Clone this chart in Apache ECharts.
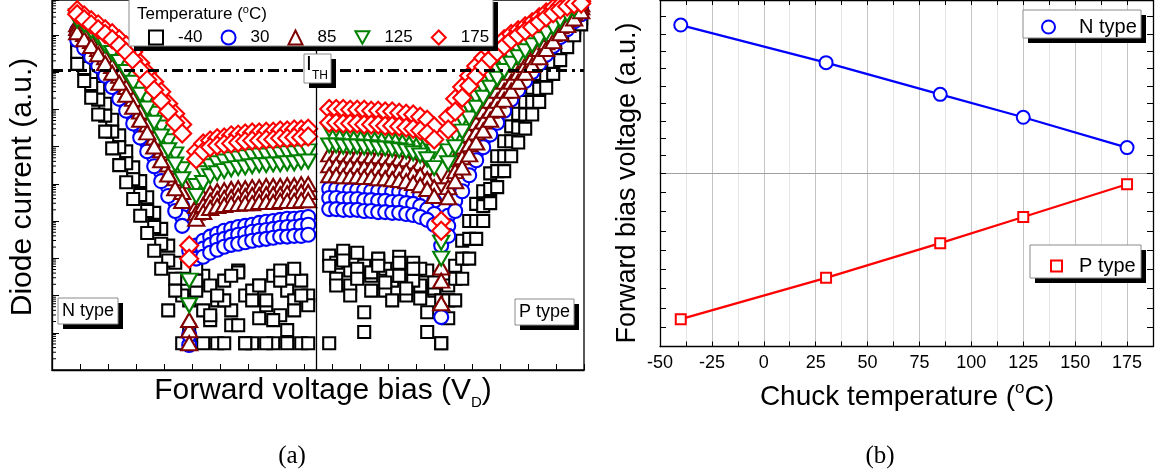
<!DOCTYPE html>
<html>
<head>
<meta charset="utf-8">
<script src="https://cdn.jsdelivr.net/npm/echarts@6/dist/echarts.min.js"></script>
<style>
  html, body { margin: 0; padding: 0; background: #ffffff; }
  #chart { width: 1166px; height: 475px; }
</style>
</head>
<body>
<div id="chart"></div>
<script>
// ---------- (a) diode I-V sweeps: forward bias sample points ----------
const biasN = [0.9, 1.15, 1.4, 1.65, 1.9, 2.15, 2.4, 2.65, 2.9, 3.15, 3.4, 3.65, 3.9, 4.15, 4.4, 4.65, 4.9,
  5.15, 5.4, 5.65, 5.9, 6.15, 6.4, 6.65, 6.9, 7.15, 7.4, 7.65, 7.9, 8.15, 8.4, 8.65, 8.9, 9.15];
const biasP = [9.9, 10.15, 10.4, 10.65, 10.9, 11.15, 11.4, 11.65, 11.9, 12.15, 12.4, 12.65, 12.9, 13.15, 13.4,
  13.65, 13.9, 14.15, 14.4, 14.65, 14.9, 15.15, 15.4, 15.65, 15.9, 16.15, 16.4, 16.65, 16.9, 17.15, 17.4,
  17.65, 17.9, 18.15, 18.4, 18.65, 18.9];

// log10 of diode current (a.u.), one row per measured device
const logIN_m40 = [
  [8.80, 8.40, 8.00, 7.57, 7.15, 6.72, 6.30, 5.87, 5.44, 5.07, 4.64, 4.22, 3.79, 3.34, 2.88, 2.45, 1.87, 2.13, 2.53, 1.34, 1.87, 2.40, 1.60, 2.67, 2.00, 0.72, 2.27, 1.74, 2.53, 1.47, 2.13, 1.87, 2.40, 2.00],
  [8.54, 8.11, 7.68, 7.26, 6.83, 6.40, 5.98, 5.55, 5.12, 4.70, 4.27, 3.84, 3.39, 2.94, 2.45, 2.00, 0.72, 2.72, 1.60, 2.27, 0.72, 1.87, 1.20, 2.62, 0.72, 2.13, 1.39, 1.87, 0.72, 2.40, 1.07, 2.72, 0.72, 1.74],
  [8.22, 7.76, 7.31, 6.86, 6.40, 5.95, 5.50, 5.04, 4.59, 4.14, 3.68, 3.20, 2.72, 1.60, 2.13, 0.72, 1.07, 2.40, 0.72, 1.47, 2.00, 0.72, 2.53, 1.20, 0.72, 1.87, 2.27, 0.72, 1.34, 2.67, 0.72, 1.60, 2.00, 0.72]
];
const logIN_30 = [
  [9.12, 8.94, 8.72, 8.51, 8.27, 8.00, 7.71, 7.39, 7.07, 6.72, 6.38, 6.00, 5.60, 5.20, 4.80, 4.40, 0.67, 3.34, 3.47, 3.58, 3.66, 3.74, 3.79, 3.84, 3.87, 3.90, 3.95, 3.98, 4.00, 4.03, 4.06, 4.06, 4.08, 4.11],
  [8.99, 8.78, 8.56, 8.32, 8.08, 7.79, 7.50, 7.18, 6.83, 6.48, 6.11, 5.71, 5.31, 4.91, 4.51, 4.11, 0.94, 3.15, 3.26, 3.36, 3.47, 3.52, 3.58, 3.63, 3.66, 3.71, 3.74, 3.76, 3.79, 3.82, 3.84, 3.84, 3.87, 3.90],
  [8.86, 8.64, 8.40, 8.16, 7.90, 7.60, 7.28, 6.96, 6.62, 6.24, 5.87, 5.47, 5.07, 4.67, 4.27, 3.87, 3.20, 2.99, 3.04, 3.15, 3.23, 3.31, 3.36, 3.39, 3.43, 3.47, 3.50, 3.52, 3.55, 3.58, 3.58, 3.60, 3.60, 3.63]
];
const logIN_85 = [
  [9.28, 9.12, 8.96, 8.78, 8.56, 8.32, 8.08, 7.79, 7.47, 7.15, 6.83, 6.48, 6.14, 5.79, 5.44, 5.07, 1.07, 4.40, 4.64, 4.75, 4.80, 4.83, 4.86, 4.88, 4.88, 4.91, 4.91, 4.94, 4.94, 4.94, 4.96, 4.96, 4.99, 4.99],
  [9.18, 9.02, 8.83, 8.62, 8.40, 8.16, 7.90, 7.60, 7.28, 6.94, 6.59, 6.24, 5.90, 5.52, 5.15, 4.78, 0.72, 4.22, 4.43, 4.54, 4.59, 4.62, 4.64, 4.67, 4.67, 4.70, 4.70, 4.72, 4.72, 4.72, 4.75, 4.75, 4.78, 4.78],
  [9.07, 8.88, 8.70, 8.48, 8.24, 7.98, 7.71, 7.39, 7.07, 6.72, 6.38, 6.00, 5.63, 5.25, 4.88, 4.54, 1.34, 4.06, 4.24, 4.35, 4.40, 4.43, 4.46, 4.46, 4.48, 4.48, 4.51, 4.51, 4.51, 4.54, 4.54, 4.54, 4.56, 4.56]
];
const logIN_125 = [
  [9.50, 9.36, 9.23, 9.07, 8.88, 8.67, 8.46, 8.19, 7.90, 7.60, 7.26, 6.88, 6.51, 6.14, 5.79, 5.39, 2.40, 4.94, 5.28, 5.47, 5.55, 5.60, 5.66, 5.68, 5.71, 5.74, 5.76, 5.76, 5.79, 5.79, 5.82, 5.82, 5.84, 5.87],
  [9.39, 9.26, 9.10, 8.94, 8.72, 8.51, 8.27, 8.00, 7.71, 7.39, 7.02, 6.64, 6.27, 5.90, 5.52, 5.12, 1.74, 4.67, 5.02, 5.20, 5.28, 5.34, 5.39, 5.42, 5.44, 5.47, 5.50, 5.50, 5.52, 5.52, 5.55, 5.55, 5.58, 5.60]
];
const logIN_175 = [
  [9.66, 9.52, 9.39, 9.28, 9.15, 9.04, 8.88, 8.72, 8.54, 8.24, 7.98, 7.74, 7.47, 7.15, 6.88, 6.59, 3.34, 5.87, 6.08, 6.16, 6.22, 6.24, 6.30, 6.32, 6.35, 6.38, 6.38, 6.40, 6.40, 6.43, 6.43, 6.46, 6.46, 6.48],
  [9.55, 9.42, 9.28, 9.15, 9.02, 8.88, 8.72, 8.54, 8.32, 8.06, 7.79, 7.52, 7.23, 6.94, 6.64, 6.35, 2.99, 5.66, 5.87, 5.98, 6.03, 6.06, 6.08, 6.11, 6.14, 6.16, 6.16, 6.19, 6.19, 6.22, 6.22, 6.24, 6.24, 6.27]
];

const logIP_m40 = [
  [3.07, 2.88, 2.99, 2.67, 3.15, 2.80, 2.53, 2.94, 2.72, 2.40, 3.04, 2.62, 2.88, 2.27, 2.67, 2.13, 0.72, 2.27, 2.80, 3.47, 4.00, 4.46, 4.80, 5.28, 5.74, 6.14, 6.54, 6.88, 7.20, 7.58, 7.95, 8.32, 8.67, 8.99, 9.26, 9.50, 9.68],
  [2.80, 2.45, 3.20, 2.27, 2.72, 1.55, 2.62, 2.99, 2.13, 2.53, 2.88, 2.00, 2.40, 2.72, 1.02, 2.19, 1.87, 1.87, 2.45, 2.99, 3.52, 4.00, 4.40, 4.86, 5.34, 5.74, 6.14, 6.51, 6.86, 7.20, 7.55, 7.92, 8.27, 8.62, 8.94, 9.20, 9.44],
  [0.72, 2.27, 2.94, 2.00, 2.45, 1.02, 2.13, 2.80, 2.35, 1.87, 2.53, 2.19, 2.72, 1.92, 1.55, 2.35, 0.72, 1.39, 1.87, 2.45, 2.99, 3.52, 4.00, 4.48, 4.91, 5.34, 5.74, 6.11, 6.48, 6.86, 7.20, 7.58, 7.95, 8.32, 8.67, 8.99, 9.28]
];
const logIP_30 = [
  [4.86, 4.86, 4.86, 4.83, 4.83, 4.83, 4.80, 4.80, 4.80, 4.78, 4.78, 4.75, 4.72, 4.70, 4.64, 4.54, 1.42, 4.14, 4.86, 5.34, 5.74, 6.14, 6.46, 6.80, 7.12, 7.42, 7.68, 7.95, 8.16, 8.38, 8.59, 8.80, 9.04, 9.26, 9.44, 9.60, 9.74],
  [4.62, 4.62, 4.59, 4.59, 4.59, 4.56, 4.56, 4.54, 4.54, 4.51, 4.51, 4.48, 4.46, 4.40, 4.32, 4.19, 3.34, 3.87, 4.54, 5.04, 5.47, 5.84, 6.19, 6.54, 6.86, 7.15, 7.44, 7.71, 7.95, 8.16, 8.38, 8.62, 8.83, 9.07, 9.28, 9.47, 9.63],
  [4.32, 4.32, 4.30, 4.30, 4.30, 4.27, 4.27, 4.24, 4.24, 4.22, 4.22, 4.19, 4.16, 4.11, 4.03, 3.90, 3.68, 3.60, 4.27, 4.80, 5.23, 5.63, 5.98, 6.32, 6.64, 6.96, 7.26, 7.52, 7.76, 8.00, 8.22, 8.46, 8.70, 8.94, 9.15, 9.36, 9.55]
];
const logIP_85 = [
  [5.79, 5.79, 5.79, 5.76, 5.76, 5.76, 5.74, 5.74, 5.71, 5.71, 5.68, 5.66, 5.60, 5.55, 5.44, 5.20, 2.75, 5.20, 5.66, 6.00, 6.32, 6.64, 6.94, 7.23, 7.50, 7.74, 7.98, 8.19, 8.40, 8.62, 8.80, 8.99, 9.20, 9.42, 9.58, 9.71, 9.82],
  [5.50, 5.50, 5.47, 5.47, 5.47, 5.44, 5.44, 5.42, 5.42, 5.39, 5.36, 5.34, 5.28, 5.23, 5.12, 4.91, 2.40, 4.91, 5.34, 5.71, 6.06, 6.38, 6.67, 6.96, 7.23, 7.50, 7.74, 7.98, 8.19, 8.40, 8.62, 8.80, 9.02, 9.23, 9.42, 9.58, 9.74],
  [5.23, 5.23, 5.20, 5.20, 5.20, 5.18, 5.18, 5.15, 5.15, 5.12, 5.10, 5.07, 5.02, 4.96, 4.86, 4.67, 1.79, 4.64, 5.07, 5.44, 5.79, 6.11, 6.43, 6.72, 6.99, 7.26, 7.50, 7.74, 7.98, 8.19, 8.40, 8.62, 8.83, 9.04, 9.26, 9.44, 9.63]
];
const logIP_125 = [
  [6.46, 6.46, 6.46, 6.43, 6.43, 6.43, 6.40, 6.40, 6.38, 6.38, 6.35, 6.32, 6.27, 6.22, 6.11, 5.87, 3.42, 5.87, 6.30, 6.72, 7.04, 7.31, 7.58, 7.84, 8.06, 8.24, 8.40, 8.59, 8.75, 8.88, 9.04, 9.18, 9.34, 9.52, 9.66, 9.76, 9.84],
  [6.03, 6.03, 6.00, 6.00, 6.00, 5.98, 5.98, 5.95, 5.95, 5.92, 5.90, 5.87, 5.82, 5.76, 5.66, 5.42, 2.99, 5.55, 5.98, 6.40, 6.75, 7.04, 7.31, 7.58, 7.82, 8.03, 8.22, 8.40, 8.56, 8.72, 8.88, 9.04, 9.20, 9.39, 9.55, 9.68, 9.79]
];
const logIP_175 = [
  [7.01, 7.01, 7.01, 6.99, 6.99, 6.99, 6.96, 6.96, 6.94, 6.94, 6.91, 6.88, 6.86, 6.80, 6.72, 6.54, 4.00, 6.80, 7.28, 7.60, 7.90, 8.16, 8.38, 8.56, 8.72, 8.88, 9.02, 9.12, 9.23, 9.34, 9.47, 9.60, 9.71, 9.79, 9.84, 9.87, 9.90],
  [6.64, 6.64, 6.62, 6.62, 6.62, 6.59, 6.59, 6.59, 6.56, 6.56, 6.54, 6.51, 6.48, 6.43, 6.35, 6.19, 3.74, 6.46, 6.94, 7.31, 7.63, 7.90, 8.14, 8.35, 8.54, 8.70, 8.86, 8.99, 9.10, 9.20, 9.34, 9.47, 9.58, 9.68, 9.76, 9.82, 9.84]
];

const temperatureLabels = ['-40', '30', '85', '125', '175'];
const currentAxisMax = 8.6e9;    // upper edge of the current axis (a.u.)
const thresholdLogI = 8.05;      // I_TH level, log10 (a.u.)
const typeBoundaryBias = 9.43;   // separates N type and P type sweeps

// ---------- (b) forward bias voltage at I_TH vs chuck temperature ----------
const chuckTemperature = [-40, 30, 85, 125, 175];
const forwardBiasN = [4.25, 3.17, 2.26, 1.60, 0.73];
const forwardBiasP = [0.71, 1.78, 2.68, 3.36, 4.21];

// ---------- styling ----------
const FONT = '"Liberation Sans", Arial, sans-serif';
const SERIF = '"Liberation Serif", "Times New Roman", serif';
const markerStyle = {
  '-40': { symbol: 'rect', size: 12, color: '#000000' },
  '30': { symbol: 'circle', size: 14, color: '#0000ff' },
  '85': { symbol: 'triangle', size: [16, 14], color: '#800000' },
  '125': { symbol: 'path://M0,0L10,0L5,9Z', size: [16, 14], color: '#008000' },
  '175': { symbol: 'diamond', size: 18, color: '#ff0000' }
};
const curvesN = [logIN_m40, logIN_30, logIN_85, logIN_125, logIN_175];
const curvesP = [logIP_m40, logIP_30, logIP_85, logIP_125, logIP_175];

function toPoints(bias, logs) {
  return logs.map((v, i) => [bias[i], Math.pow(10, v)]);
}

const sweepSeries = temperatureLabels.map((name, t) => {
  const st = markerStyle[name];
  let pts = [];
  curvesN[t].forEach(dev => { pts = pts.concat(toPoints(biasN, dev)); });
  curvesP[t].forEach(dev => { pts = pts.concat(toPoints(biasP, dev)); });
  return {
    name: name,
    type: 'scatter',
    xAxisIndex: 0,
    yAxisIndex: 0,
    symbol: st.symbol,
    symbolSize: st.size,
    itemStyle: { color: '#ffffff', borderColor: st.color, borderWidth: 2.1, opacity: 1 },
    data: pts,
    z: 2 + t * 0.01,
    silent: true
  };
});

// threshold line and N/P boundary drawn with the last sweep
sweepSeries[sweepSeries.length - 1].markLine = {
  silent: true,
  symbol: 'none',
  label: { show: false },
  data: [
    { yAxis: Math.pow(10, thresholdLogI), lineStyle: { color: '#000', width: 3, type: [11, 5, 3, 5] } },
    { xAxis: typeBoundaryBias, lineStyle: { color: '#000', width: 1.3, type: 'solid' } }
  ]
};

// log minor ticks on the current axis
const minorMultipliers = [2, 3, 4, 5, 6, 7, 8, 9];
const minorTickData = [];
for (let d = 0; d < 10; d++) {
  minorMultipliers.forEach(m => {
    const v = m * Math.pow(10, d);
    if (v < currentAxisMax) minorTickData.push([0, v]);
  });
}
const minorTickSeries = {
  type: 'custom',
  xAxisIndex: 0,
  yAxisIndex: 0,
  silent: true,
  data: minorTickData,
  renderItem: (params, api) => {
    const p = api.coord([0, api.value(1)]);
    return {
      type: 'line',
      shape: { x1: p[0], y1: p[1], x2: p[0] + 4, y2: p[1] },
      style: { stroke: '#000', lineWidth: 1 }
    };
  },
  z: 10
};

function boxWithShadow(x, y, w, h, dx, dy) {
  return [
    { type: 'rect', shape: { x: x + dx, y: y + dy, width: w, height: h }, style: { fill: '#000' }, z: 100 },
    { type: 'rect', shape: { x: x, y: y, width: w, height: h }, style: { fill: '#fff', stroke: '#8a8a8a', lineWidth: 1 }, z: 101 }
  ];
}
function label(x, y, text, size, extra) {
  return {
    type: 'text', x: x, y: y, z: 110,
    style: Object.assign({ text: text, fontSize: size, fontFamily: FONT, fill: '#000', textAlign: 'center', textVerticalAlign: 'middle' }, extra || {})
  };
}

const graphics = []
  .concat(boxWithShadow(129, -3, 364, 49, 5, 5))
  .concat(boxWithShadow(304, 54, 27, 29, 5, 5))
  .concat(boxWithShadow(58, 298, 60, 26, 5, 5))
  .concat(boxWithShadow(515, 299, 59, 26, 5, 5))
  .concat(boxWithShadow(1023, 10, 118, 28, 5, 5))
  .concat(boxWithShadow(1030, 245, 111, 33, 5, 5))
  .concat([
    label(137, 14, 'Temperature ({s|o}C)', 17, {
      textAlign: 'left',
      rich: { s: { fontSize: 11, fontFamily: FONT, verticalAlign: 'top', lineHeight: 20 } },
      lineHeight: 20
    }),
    label(317, 68, '{i|I}{t|TH}', 20, {
      rich: {
        i: { fontSize: 21, fontFamily: FONT, lineHeight: 28, verticalAlign: 'top' },
        t: { fontSize: 12, fontFamily: FONT, lineHeight: 28, verticalAlign: 'bottom' }
      }
    }),
    label(88, 311, 'N type', 18),
    label(544.5, 312, 'P type', 18),
    Object.assign(label(23, 187, 'Diode current (a.u.)', 30), { rotation: Math.PI / 2 }),
    label(323, 391, 'Forward voltage bias (V{d|D})', 30, {
      rich: { d: { fontSize: 15, fontFamily: FONT, verticalAlign: 'bottom', lineHeight: 38 } },
      lineHeight: 38
    }),
    label(292, 456, '(a)', 25, { fontFamily: SERIF }),
    Object.assign(label(628, 183, 'Forward bias voltage (a.u.)', 27), { rotation: Math.PI / 2 }),
    label(907, 397, 'Chuck temperature ({s|o}C)', 28, {
      rich: { s: { fontSize: 17, fontFamily: FONT, verticalAlign: 'top', lineHeight: 34 } },
      lineHeight: 34
    }),
    label(880, 456, '(b)', 25, { fontFamily: SERIF })
  ]);

const tempAxisCommon = { type: 'value', min: -50, max: 187.5, interval: 12.5 };
const splitColors = ['#c4c4c4', '#e6e6e6'];
const frameAxis = { onZero: false, lineStyle: { color: '#000', width: 1.3 } };
const frameTick = { inside: true, length: 6, lineStyle: { color: '#000' } };

const option = {
  animation: false,
  backgroundColor: '#ffffff',
  grid: [
    { left: 52, top: 0, width: 532, height: 370, show: true, borderColor: '#000', borderWidth: 1.3, backgroundColor: 'transparent' },
    { left: 660, top: 0, width: 493, height: 173 },
    { left: 660, top: 173, width: 493, height: 173.5 }
  ],
  xAxis: [
    {
      gridIndex: 0, type: 'value', min: 0, max: 19, interval: 1,
      axisLine: frameAxis,
      axisTick: { inside: true, length: 6, lineStyle: { color: '#000', width: 1 } },
      axisLabel: { show: false }, splitLine: { show: false }
    },
    Object.assign({}, tempAxisCommon, {
      gridIndex: 1, position: 'bottom',
      axisLine: { onZero: false, lineStyle: { color: '#a0a0a0', width: 1 } },
      axisTick: { show: false }, axisLabel: { show: false },
      splitLine: { show: true, lineStyle: { color: splitColors, width: 1 } }
    }),
    Object.assign({}, tempAxisCommon, {
      gridIndex: 1, position: 'top',
      axisLine: frameAxis, axisTick: { inside: true, length: 5, lineStyle: { color: '#000' } },
      axisLabel: { show: false }, splitLine: { show: false }
    }),
    Object.assign({}, tempAxisCommon, {
      gridIndex: 2, position: 'bottom',
      axisLine: frameAxis, axisTick: { inside: true, length: 5, lineStyle: { color: '#000' } },
      axisLabel: {
        color: '#000', fontSize: 18, fontFamily: FONT, margin: 8,
        formatter: v => (Math.abs(v % 25) < 1e-6 ? String(v) : '')
      },
      splitLine: { show: true, lineStyle: { color: splitColors, width: 1 } }
    })
  ],
  yAxis: [
    {
      gridIndex: 0, type: 'log', logBase: 10, min: 1, max: currentAxisMax,
      axisLine: frameAxis,
      axisTick: { inside: true, length: 7, lineStyle: { color: '#000', width: 1 } },
      axisLabel: { show: false }, splitLine: { show: false }
    },
    { gridIndex: 1, type: 'value', min: 0, max: 4.97, interval: 0.5, position: 'left',
      axisLine: frameAxis, axisTick: frameTick, axisLabel: { show: false }, splitLine: { show: false } },
    { gridIndex: 1, type: 'value', min: 0, max: 4.97, interval: 0.5, position: 'right',
      axisLine: frameAxis, axisTick: frameTick, axisLabel: { show: false }, splitLine: { show: false } },
    { gridIndex: 2, type: 'value', min: 0, max: 4.5, interval: 0.5, position: 'left',
      axisLine: frameAxis, axisTick: frameTick, axisLabel: { show: false }, splitLine: { show: false } },
    { gridIndex: 2, type: 'value', min: 0, max: 4.5, interval: 0.5, position: 'right',
      axisLine: frameAxis, axisTick: frameTick, axisLabel: { show: false }, splitLine: { show: false } }
  ],
  legend: [
    {
      left: 148, top: 29, padding: 0, itemWidth: 14, itemHeight: 14, itemGap: 18,
      selectedMode: false, z: 200,
      textStyle: { fontSize: 17, fontFamily: FONT, color: '#000', padding: [0, 0, 0, 10] },
      data: temperatureLabels.map(n => ({
        name: n, icon: markerStyle[n].symbol,
        itemStyle: { color: '#fff', borderColor: markerStyle[n].color, borderWidth: 2 }
      }))
    },
    {
      left: 1041, top: 17, padding: 0, itemWidth: 13, itemHeight: 13,
      selectedMode: false, z: 200,
      textStyle: { fontSize: 20, fontFamily: FONT, color: '#000', padding: [0, 0, 0, 19] },
      data: [{ name: 'N type', icon: 'circle', itemStyle: { color: '#fff', borderColor: '#0000ff', borderWidth: 2 } }]
    },
    {
      left: 1050, top: 256, padding: 0, itemWidth: 11, itemHeight: 11,
      selectedMode: false, z: 200,
      textStyle: { fontSize: 20, fontFamily: FONT, color: '#000', padding: [0, 0, 0, 12] },
      data: [{ name: 'P type', icon: 'rect', itemStyle: { color: '#fff', borderColor: '#ff0000', borderWidth: 2 } }]
    }
  ],
  graphic: graphics,
  series: sweepSeries.concat([
    minorTickSeries,
    {
      name: 'N type', type: 'line', xAxisIndex: 1, yAxisIndex: 1,
      data: chuckTemperature.map((t, i) => [t, forwardBiasN[i]]),
      symbol: 'circle', symbolSize: 13,
      lineStyle: { color: '#0000ff', width: 2.2 },
      itemStyle: { color: '#fff', borderColor: '#0000ff', borderWidth: 2 },
      z: 5
    },
    {
      name: 'P type', type: 'line', xAxisIndex: 3, yAxisIndex: 3,
      data: chuckTemperature.map((t, i) => [t, forwardBiasP[i]]),
      symbol: 'rect', symbolSize: 10,
      lineStyle: { color: '#ff0000', width: 2.2 },
      itemStyle: { color: '#fff', borderColor: '#ff0000', borderWidth: 2 },
      z: 5
    }
  ])
};

const chart = echarts.init(document.getElementById('chart'), null, { renderer: 'canvas' });
chart.setOption(option);
</script>
</body>
</html>
